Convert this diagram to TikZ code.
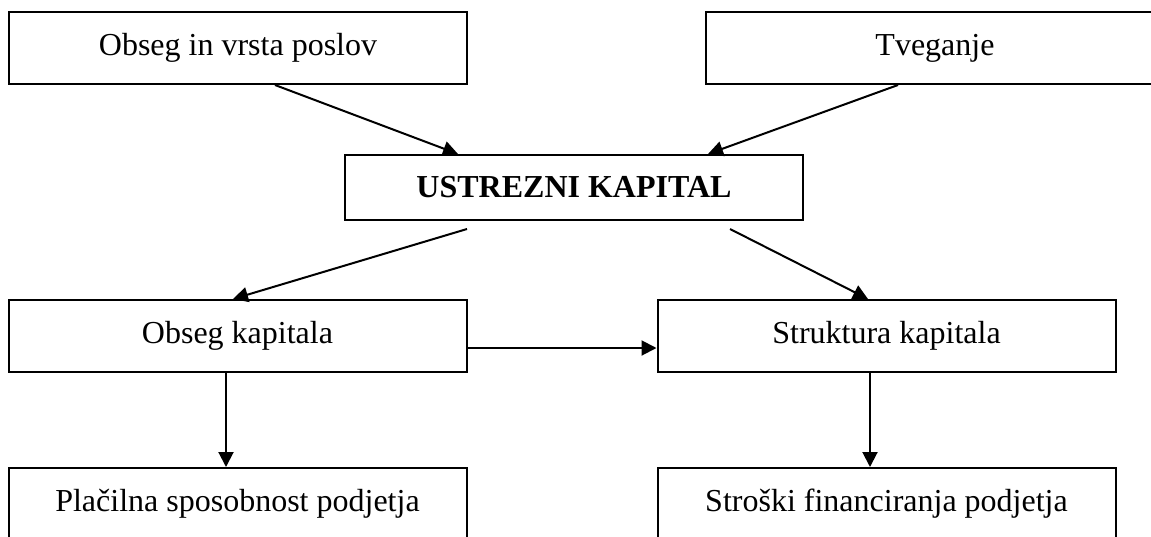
\documentclass[tikz,border=0pt]{standalone}
\usepackage{fontspec}
\setmainfont{Liberation Serif}
\usetikzlibrary{arrows.meta,calc}

\begin{document}
\begin{tikzpicture}
  [x=0.5pt,y=-0.5pt,
   box/.style={draw,line width=1pt,rectangle,minimum width=229pt,minimum height=36pt,
     inner sep=0pt,font=\fontsize{16}{19}\selectfont},
   arr/.style={line width=1pt,-{Triangle[length=7.5pt,width=7.5pt]}}]
  \useasboundingbox (0,0) rectangle (1151,536);
  \node[box] (posl) at (238,48) {Obseg in vrsta poslov};
  \node[box] (tveg) at (935,48) {Tveganje};
  \node[box,minimum height=32.5pt,font=\fontsize{16}{19}\selectfont\bfseries] (kap) at (574,187.5) {USTREZNI KAPITAL};
  \node[box] (obseg) at (237.5,336) {Obseg kapitala};
  \node[box] (strukt) at (886.5,336) {Struktura kapitala};
  \node[box] (placil) at (237.5,504) {Plačilna sposobnost podjetja};
  \node[box] (stros) at (886.5,504) {Stroški financiranja podjetja};
  \draw[arr] ($(posl.south)+(37,0)$) -- ($(kap.north)+(-116,0)$);
  \draw[arr] ($(tveg.south)+(-37,0)$) -- ($(kap.north)+(134,0)$);
  \draw[arr] ($(kap.south)+(-107,8)$) -- ($(obseg.north)+(-4.5,0)$);
  \draw[arr] ($(kap.south)+(156,8)$) -- ($(strukt.north)+(-18.5,0)$);
  \draw[arr] ($(obseg.east)+(0,12)$) -- ($(strukt.west)+(0,12)$);
  \draw[arr] ($(obseg.south)+(-11.5,0)$) -- ($(placil.north)+(-11.5,0)$);
  \draw[arr] ($(strukt.south)+(-16.5,0)$) -- ($(stros.north)+(-16.5,0)$);
\end{tikzpicture}
\end{document}
